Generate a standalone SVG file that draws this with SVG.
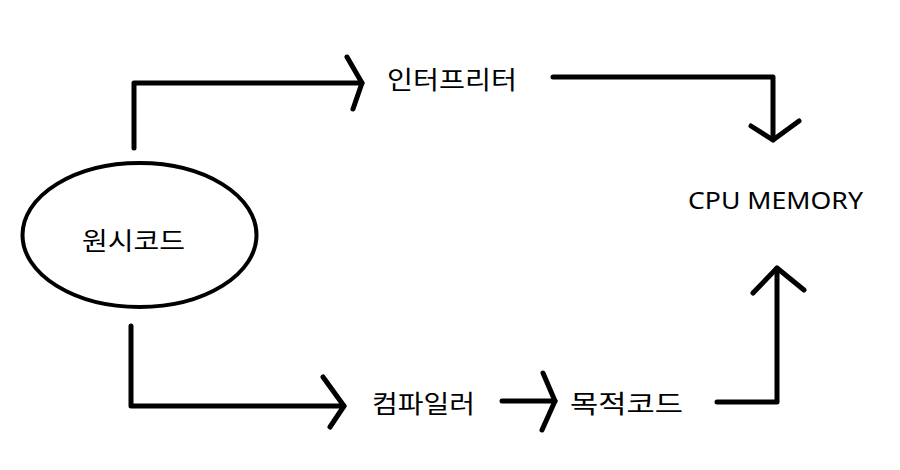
<svg xmlns="http://www.w3.org/2000/svg" width="900" height="470" viewBox="0 0 900 470">
<style>
.ln{fill:none;stroke:#000;stroke-width:5;stroke-linecap:round;stroke-linejoin:round}
.kr{font-family:"Noto Sans CJK KR","Noto Sans",sans-serif;font-size:25px;fill:#000}
.en{font-family:"Noto Sans","Noto Sans CJK KR",sans-serif;font-size:23px;fill:#000}
</style>
<rect width="900" height="470" fill="#fff"/>
<g id="connectors">
<path class="ln" d="M134,148 V83 H362"/>
<path class="ln" d="M347,57 L362,83 L353,109"/>
<path class="ln" d="M553,77 H773 V140"/>
<path class="ln" d="M751,126 L773,140 L799,121"/>
<path class="ln" d="M131,326 V406 H344"/>
<path class="ln" d="M323,377 L344,406 L330,427"/>
<path class="ln" d="M502,401 H555"/>
<path class="ln" d="M543,373 L555,401 L542,430"/>
<path class="ln" d="M717,402 H777 V268"/>
<path class="ln" d="M753,293 L777,268 L804,290"/>
</g>
<g id="source">
<ellipse cx="139.5" cy="235" rx="117" ry="72" fill="#fff" stroke="#000" stroke-width="4"/>
<text class="kr" x="82" y="250" textLength="103" lengthAdjust="spacingAndGlyphs">원시코드</text>
</g>
<g id="interpreter">
<text class="kr" x="387" y="89" textLength="130" lengthAdjust="spacingAndGlyphs">인터프리터</text>
</g>
<g id="compiler">
<text class="kr" x="372" y="413" textLength="103" lengthAdjust="spacingAndGlyphs">컴파일러</text>
</g>
<g id="object">
<text class="kr" x="570" y="413" textLength="113" lengthAdjust="spacingAndGlyphs">목적코드</text>
</g>
<g id="cpu">
<text class="en" x="688" y="209" textLength="175" lengthAdjust="spacingAndGlyphs">CPU MEMORY</text>
</g>
</svg>
